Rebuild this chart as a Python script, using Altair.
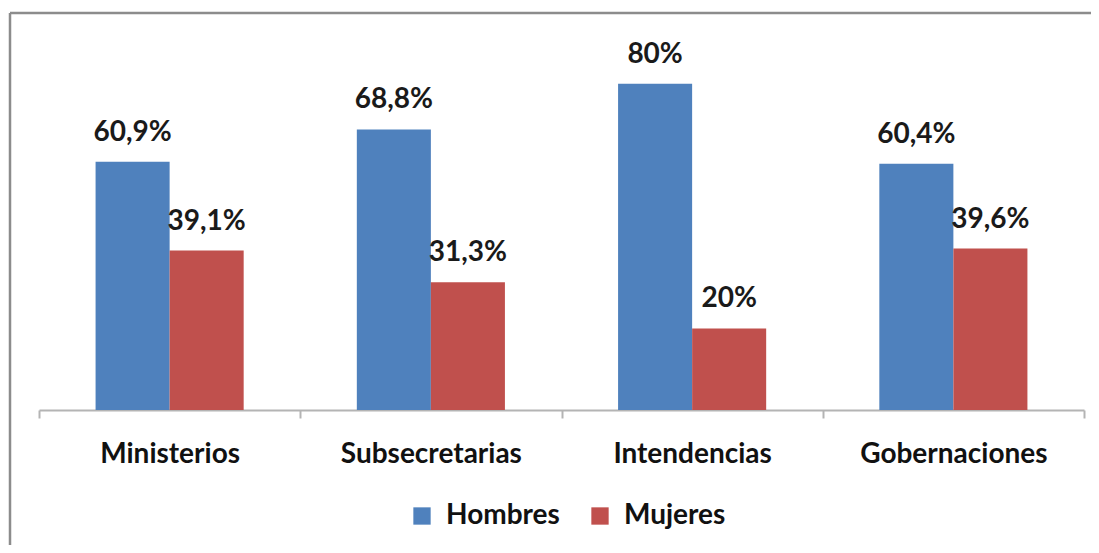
import altair as alt
import pandas as pd

categories = ["Ministerios", "Subsecretarias", "Intendencias", "Gobernaciones"]
series = ["Hombres", "Mujeres"]
hombres = [60.9, 68.8, 80, 60.4]
mujeres = [39.1, 31.3, 20, 39.6]
hombres_labels = ["60,9%", "68,8%", "80%", "60,4%"]
mujeres_labels = ["39,1%", "31,3%", "20%", "39,6%"]
colors = ["#4F81BD", "#C0504D"]

rows = []
for c, h, m, hl, ml in zip(categories, hombres, mujeres, hombres_labels, mujeres_labels):
    rows.append({"cat": c, "serie": "Hombres", "valor": h, "etiqueta": hl})
    rows.append({"cat": c, "serie": "Mujeres", "valor": m, "etiqueta": ml})
df = pd.DataFrame(rows)

FONT = "Lato"
FS = 28

x = alt.X(
    "cat:N",
    sort=categories,
    scale=alt.Scale(paddingInner=0, paddingOuter=0),
    axis=alt.Axis(
        title=None, labelAngle=0, tickBand="extent", domainColor="#b4b4b4",
        tickColor="#b4b4b4", tickSize=8, domainWidth=2, tickWidth=2,
        labelFont=FONT, labelFontSize=FS, labelFontWeight="bold",
        labelColor="#111111", labelPadding=22, labelLimit=400, labelOverlap=False,
    ),
)
xo = alt.XOffset("serie:N", sort=series,
                 scale=alt.Scale(paddingInner=0, paddingOuter=0.764))
y = alt.Y("valor:Q", scale=alt.Scale(domain=[0, 90]), axis=None)

bars = alt.Chart(df).mark_bar().encode(
    x=x, xOffset=xo, y=y,
    color=alt.Color(
        "serie:N", sort=series,
        scale=alt.Scale(domain=series, range=colors),
        legend=alt.Legend(
            title=None, orient="none", legendX=369, legendY=459,
            direction="horizontal", symbolType="square", symbolSize=300,
            symbolStrokeWidth=0, symbolOpacity=1, labelFont=FONT,
            labelFontSize=FS, labelFontWeight="bold", labelColor="#111111",
            labelOffset=10, columnPadding=26,
        ),
    ),
)

texts = alt.Chart(df).mark_text(
    baseline="alphabetic", dy=-21, font=FONT, fontSize=FS,
    fontWeight="bold", color="#1a1a1a",
).encode(x=x, xOffset=xo, y=y, text="etiqueta:N")

frame_df = pd.DataFrame({"k": [0]})
top_rule = alt.Chart(frame_df).mark_rule(color="#8c8c8c", strokeWidth=2.5).encode(
    x=alt.value(-29), x2=alt.value(1052), y=alt.value(-30)
)
left_rule = alt.Chart(frame_df).mark_rule(color="#8c8c8c", strokeWidth=2.5).encode(
    x=alt.value(-29), y=alt.value(-30), y2=alt.value(502)
)

chart = alt.layer(bars, texts, top_rule, left_rule).properties(
    width=1045, height=367,
    autosize=alt.AutoSizeParams(type="none"),
    padding={"left": 31, "top": 35, "right": 7, "bottom": 135},
    background="white",
).configure_view(stroke=None)

chart.save("out.html", embed_options={"renderer": "svg", "actions": False})
